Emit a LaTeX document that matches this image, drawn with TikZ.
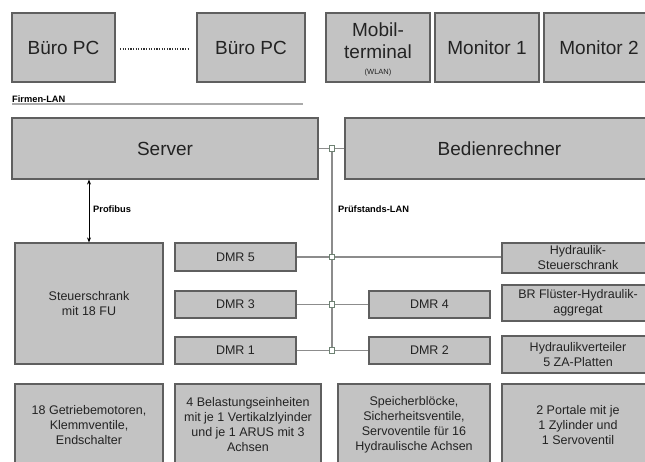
\documentclass[tikz,border=0pt]{standalone}
\usepackage{fontspec}
\setmainfont{Liberation Sans}
\usetikzlibrary{arrows.meta}
\definecolor{boxfill}{RGB}{195,195,195}
\definecolor{boxline}{RGB}{95,95,95}
\definecolor{txt}{RGB}{35,35,35}
\definecolor{busline}{RGB}{140,140,140}
\definecolor{lanline}{RGB}{170,170,170}
\definecolor{juncline}{RGB}{110,130,115}
\tikzset{
  box/.style={draw=boxline, fill=boxfill, line width=1.2pt, inner sep=0pt, text=txt, align=center},
  bigtxt/.style={font=\fontsize{19}{22}\selectfont},
  smalltxt/.style={font=\fontsize{12.5}{15}\selectfont},
  lbl/.style={font=\fontsize{9.3}{11}\selectfont\bfseries, text=black, inner sep=0pt, anchor=west},
  bus/.style={draw=busline, line width=1.2pt},
  junc/.style={draw=juncline, fill=white, line width=1pt, minimum size=5.5pt, inner sep=0pt, rectangle},
  dotline/.style={black!80, line width=1.8pt, dash pattern=on 1.2pt off 1.4pt},
}
\begin{document}
\begin{tikzpicture}[x=1pt, y=-1pt]
\useasboundingbox (0,0) rectangle (645,462);
\fill[white] (0,0) rectangle (645,462);
\clip (0,0) rectangle (645,462);

% top row
\node[box, bigtxt, minimum width=103pt, minimum height=69pt] (bpc1) at (63.5,47.5) {Büro PC};
\node[box, bigtxt, minimum width=108pt, minimum height=69pt] (bpc2) at (251,47.5) {Büro PC};
\node[box, minimum width=104pt, minimum height=69pt] (mobil) at (378,47.5) {};
\node[bigtxt, text=txt, anchor=base, inner sep=0pt] (mobilA) at (378,37) {Mobil-};
\node[bigtxt, text=txt, anchor=base, inner sep=0pt] (mobilB) at (378,59) {terminal};
\node[font=\fontsize{7.5}{9}\selectfont, text=txt, anchor=base, inner sep=0pt] (mobilC) at (378,75) {(WLAN)};
\node[box, bigtxt, minimum width=104pt, minimum height=69pt] (mon1) at (487,47.5) {Monitor 1};
\node[box, bigtxt, minimum width=110pt, minimum height=69pt] (mon2) at (599,47.5) {Monitor 2};
\coordinate (dA) at (120,49);
\coordinate (dB) at (190,49);
\draw[dotline] (dA) -- (dB);

% Firmen-LAN
\node[lbl] (firmen) at (12,99) {Firmen-LAN};
\coordinate (lanL) at (12,104);
\coordinate (lanR) at (303,104);
\draw[lanline, line width=1.5pt] (lanL) -- (lanR);

% server row
\node[box, bigtxt, minimum width=306pt, minimum height=61pt] (server) at (165,148.5) {Server};
\node[box, bigtxt, minimum width=309pt, minimum height=61pt] (bedien) at (499.5,148.5) {Bedienrechner};

% middle row
\node[box, smalltxt, minimum width=148pt, minimum height=121pt] (steuer) at (89,303.5) {Steuerschrank\\mit 18 FU};
\node[box, smalltxt, minimum width=121pt, minimum height=28pt] (dmr5) at (235.5,257) {DMR 5};
\node[box, smalltxt, minimum width=121pt, minimum height=27pt] (dmr3) at (235.5,304.5) {DMR 3};
\node[box, smalltxt, minimum width=121pt, minimum height=27pt] (dmr1) at (235.5,350.5) {DMR 1};
\node[box, smalltxt, minimum width=121pt, minimum height=27pt] (dmr4) at (429.5,304.5) {DMR 4};
\node[box, smalltxt, minimum width=121pt, minimum height=27pt] (dmr2) at (429.5,350.5) {DMR 2};
\node[box, smalltxt, minimum width=152pt, minimum height=30pt] (hst) at (578,258) {Hydraulik-\\Steuerschrank};
\node[box, smalltxt, minimum width=152pt, minimum height=36pt] (brf) at (578,303) {BR Flüster-Hydraulik-\\aggregat};
\node[box, smalltxt, minimum width=152pt, minimum height=37pt] (hvt) at (578,354.5) {Hydraulikverteiler\\5 ZA-Platten};

% bottom row
\node[box, smalltxt, minimum width=148pt, minimum height=82pt] (b1) at (89,425) {18 Getriebemotoren,\\Klemmventile,\\Endschalter};
\node[box, smalltxt, minimum width=146pt, minimum height=82pt] (b2) at (248,425) {4 Belastungseinheiten\\mit je 1 Vertikalzlyinder\\und je 1 ARUS mit 3\\Achsen};
\node[box, smalltxt, minimum width=152pt, minimum height=82pt] (b3) at (414,425) {Speicherblöcke,\\Sicherheitsventile,\\Servoventile für 16\\Hydraulische Achsen};
\node[box, smalltxt, minimum width=152pt, minimum height=82pt] (b4) at (578,425) {2 Portale mit je\\1 Zylinder und\\1 Servoventil};

% Profibus
\draw[black, line width=0.9pt, {Stealth[length=5pt,width=4pt]}-{Stealth[length=5pt,width=4pt]}] (steuer.north |- server.south) -- (steuer.north);
\node[lbl] (profibus) at (93,209) {Profibus};

% Prüfstands-LAN bus
\coordinate (jT) at (332,148.5);
\coordinate (j5) at (332,257);
\coordinate (j3) at (332,304.5);
\coordinate (j1) at (332,350.5);
\draw[bus] (server.east) -- (bedien.west);
\draw[bus] (jT) -- (j1);
\draw[bus] (dmr5.east) -- (hst.west |- dmr5.east);
\draw[bus] (dmr3.east) -- (dmr4.west);
\draw[bus] (dmr1.east) -- (dmr2.west);
\node[lbl] (pruef) at (338,209) {Prüfstands-LAN};
\node[junc] (qT) at (jT) {};
\node[junc] (q5) at (j5) {};
\node[junc] (q3) at (j3) {};
\node[junc] (q1) at (j1) {};
\end{tikzpicture}
\end{document}
